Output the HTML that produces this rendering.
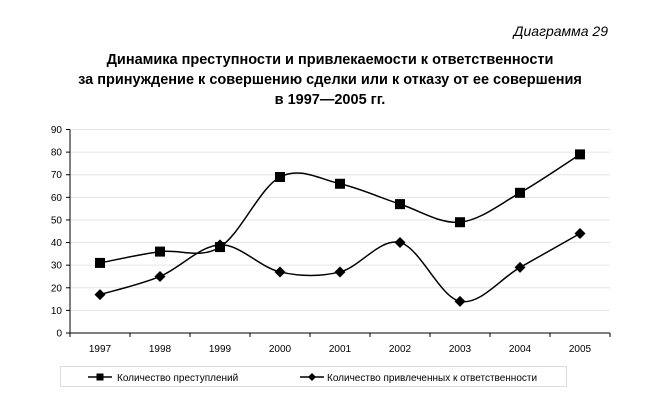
<!DOCTYPE html>
<html><head><meta charset="utf-8"><style>
body{margin:0;background:#fff;width:660px;height:412px;overflow:hidden;font-family:"Liberation Sans",sans-serif}
</style></head><body>
<svg width="660" height="412" xmlns="http://www.w3.org/2000/svg" font-family="Liberation Sans, sans-serif">
<text x="608" y="36" font-size="14" font-style="italic" text-anchor="end">Диаграмма 29</text>
<g font-size="14.5" font-weight="bold" text-anchor="middle">
<text x="330" y="64">Динамика преступности и привлекаемости к ответственности</text>
<text x="330" y="84">за принуждение к совершению сделки или к отказу от ее совершения</text>
<text x="330" y="104">в 1997—2005 гг.</text>
</g>
<g id="grid" stroke="#e4e4e4" stroke-width="1"></g>
<g id="axes" stroke="#000" stroke-width="1"></g>
<g id="lab" font-size="10"></g>
<path id="p1" fill="none" stroke="#000" stroke-width="1.5"/>
<path id="p2" fill="none" stroke="#000" stroke-width="1.5"/>
<g id="m"></g>
<rect x="60.5" y="366.5" width="506" height="20" fill="none" stroke="#ddd"/>
<line x1="88" y1="377" x2="112" y2="377" stroke="#000" stroke-width="1.5"/>
<rect x="96.5" y="373.5" width="7" height="7"/>
<text x="117" y="381" font-size="10">Количество преступлений</text>
<line x1="300" y1="377" x2="324" y2="377" stroke="#000" stroke-width="1.5"/>
<polygon points="312,373 316,377 312,381 308,377"/>
<text x="327" y="381" font-size="10">Количество привлеченных к ответственности</text>
</svg>
<script>
const ns="http://www.w3.org/2000/svg";
function el(p,t,a,txt){const e=document.createElementNS(ns,t);for(const k in a)e.setAttribute(k,a[k]);if(txt)e.textContent=txt;document.getElementById(p).appendChild(e);}
const Y=v=>333-v*2.261,X=i=>100+i*60;
for(let v=10;v<=90;v+=10)el("grid","line",{x1:70,x2:610,y1:Y(v),y2:Y(v)});
el("axes","line",{x1:70,x2:70,y1:Y(90),y2:333});
el("axes","line",{x1:70,x2:610,y1:333,y2:333});
for(let v=0;v<=90;v+=10){el("axes","line",{x1:66,x2:70,y1:Y(v),y2:Y(v)});el("lab","text",{x:62,y:Y(v)+3.5,"text-anchor":"end"},String(v));}
for(let i=0;i<=9;i++)el("axes","line",{x1:70+i*60,x2:70+i*60,y1:333,y2:337});
for(let i=0;i<9;i++)el("lab","text",{x:X(i),y:352,"text-anchor":"middle"},String(1997+i));
const s1=[31,36,38,69,66,57,49,62,79],s2=[17,25,39,27,27,40,14,29,44];
function path(s){const p=s.map((v,i)=>[X(i),Y(v)]);let d="M"+p[0];for(let i=0;i<p.length-1;i++){const a=p[i-1]||p[i],b=p[i],c=p[i+1],e=p[i+2]||c;const t=1/6;d+=" C"+(b[0]+(c[0]-a[0])*t)+","+(b[1]+(c[1]-a[1])*t)+" "+(c[0]-(e[0]-b[0])*t)+","+(c[1]-(e[1]-b[1])*t)+" "+c;}return d;}
document.getElementById("p1").setAttribute("d",path(s1));
document.getElementById("p2").setAttribute("d",path(s2));
s1.forEach((v,i)=>el("m","rect",{x:X(i)-5,y:Y(v)-5,width:10,height:10}));
s2.forEach((v,i)=>{const x=X(i),y=Y(v);el("m","polygon",{points:`${x},${y-5.5} ${x+5.5},${y} ${x},${y+5.5} ${x-5.5},${y}`});});
</script>
</body></html>
